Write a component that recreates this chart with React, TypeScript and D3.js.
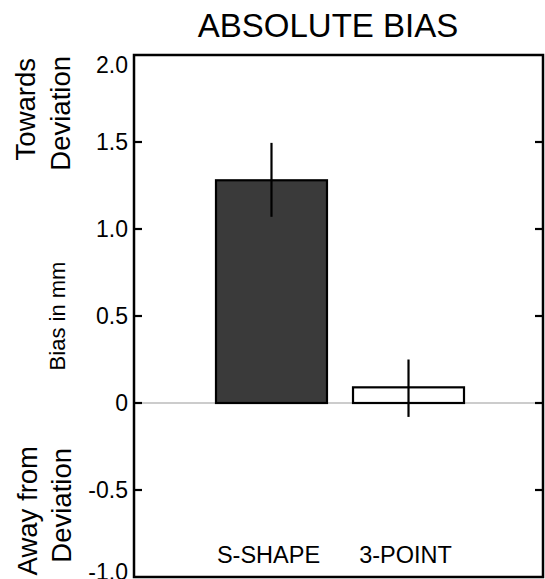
import React, { useEffect, useRef } from "react";
import * as d3 from "d3";

const categories = ["S-SHAPE", "3-POINT"];
const means = [1.28, 0.09];
const errLow = [1.07, -0.08];
const errHigh = [1.495, 0.25];
const barFills = ["#3a3a3a", "#ffffff"];
const yTicks = [-1.0, -0.5, 0, 0.5, 1.0, 1.5, 2.0];
const tickLabels = ["-1.0", "-0.5", "0", "0.5", "1.0", "1.5", "2.0"];

const WIDTH = 545;
const HEIGHT = 579;

export default function App() {
  const svgRef = useRef<SVGSVGElement>(null);

  useEffect(() => {
    const svg = d3.select(svgRef.current);
    svg.selectAll("*").remove();

    const margin = { top: 55, right: 2, bottom: 2, left: 134 };
    const plotW = WIDTH - margin.left - margin.right;
    const plotH = HEIGHT - margin.top - margin.bottom;
    const font = "'Liberation Sans', Arial, sans-serif";

    const g = svg
      .append("g")
      .attr("transform", `translate(${margin.left},${margin.top})`);

    const y = d3.scaleLinear().domain([-1, 2]).range([plotH, 0]);
    const x = d3
      .scaleBand()
      .domain(categories)
      .range([82, 330])
      .paddingInner(0.19)
      .paddingOuter(0);

    // zero line
    g.append("line")
      .attr("x1", 0)
      .attr("x2", plotW)
      .attr("y1", y(0))
      .attr("y2", y(0))
      .attr("stroke", "#9a9a9a")
      .attr("stroke-width", 1.2);

    // bars
    g.selectAll(".bar")
      .data(categories)
      .enter()
      .append("rect")
      .attr("class", "bar")
      .attr("x", (d) => x(d)!)
      .attr("width", x.bandwidth())
      .attr("y", (d, i) => y(Math.max(0, means[i])))
      .attr("height", (d, i) => Math.abs(y(means[i]) - y(0)))
      .attr("fill", (d, i) => barFills[i])
      .attr("stroke", "#000")
      .attr("stroke-width", 2.2);

    // error bars
    g.selectAll(".err")
      .data(categories)
      .enter()
      .append("line")
      .attr("class", "err")
      .attr("x1", (d) => x(d)! + x.bandwidth() / 2)
      .attr("x2", (d) => x(d)! + x.bandwidth() / 2)
      .attr("y1", (d, i) => y(errLow[i]))
      .attr("y2", (d, i) => y(errHigh[i]))
      .attr("stroke", "#000")
      .attr("stroke-width", 2.2);

    // category labels
    g.selectAll(".cat")
      .data(categories)
      .enter()
      .append("text")
      .attr("class", "cat")
      .attr("x", (d) => x(d)! + x.bandwidth() / 2 - 3)
      .attr("y", y(-1) - 14)
      .attr("text-anchor", "middle")
      .style("font-family", font)
      .style("font-size", "23.5px")
      .text((d) => d);

    // ticks on both sides, pointing inward
    const inner = yTicks.filter((t) => t > -1 && t < 2);
    g.selectAll(".tickL")
      .data(inner)
      .enter()
      .append("line")
      .attr("x1", 0)
      .attr("x2", 8)
      .attr("y1", (d) => y(d))
      .attr("y2", (d) => y(d))
      .attr("stroke", "#000")
      .attr("stroke-width", 2.2);
    g.selectAll(".tickR")
      .data(inner)
      .enter()
      .append("line")
      .attr("x1", plotW - 8)
      .attr("x2", plotW)
      .attr("y1", (d) => y(d))
      .attr("y2", (d) => y(d))
      .attr("stroke", "#000")
      .attr("stroke-width", 2.2);

    // tick labels (end labels nudged inside like the original)
    g.selectAll(".tlab")
      .data(yTicks)
      .enter()
      .append("text")
      .attr("class", "tlab")
      .attr("x", -6)
      .attr("y", (d) => y(d) + (d === 2 ? 10 : d === -1 ? -5 : 0))
      .attr("dy", "0.36em")
      .attr("text-anchor", "end")
      .style("font-family", font)
      .style("font-size", "23px")
      .text((d, i) => tickLabels[i]);

    // frame
    g.append("rect")
      .attr("x", 0)
      .attr("y", 0)
      .attr("width", plotW)
      .attr("height", plotH)
      .attr("fill", "none")
      .attr("stroke", "#000")
      .attr("stroke-width", 2.5);

    // title
    svg
      .append("text")
      .attr("x", 328)
      .attr("y", 37)
      .attr("text-anchor", "middle")
      .style("font-family", font)
      .style("font-size", "33px")
      .text("ABSOLUTE BIAS");

    // side labels
    const sideLabel = (txt: string, bx: number, endY: number, size: number) => {
      svg
        .append("text")
        .attr("transform", `translate(${bx},${endY}) rotate(-90)`)
        .attr("text-anchor", "end")
        .style("font-family", font)
        .style("font-size", `${size}px`)
        .text(txt);
    };
    sideLabel("Towards", 35, 58, 27.5);
    sideLabel("Deviation", 70, 56, 27.5);
    sideLabel("Away from", 37, 446, 27.5);
    sideLabel("Deviation", 71, 448, 27.5);

    svg
      .append("text")
      .attr("transform", `translate(65,${y(0.5) + margin.top}) rotate(-90)`)
      .attr("text-anchor", "middle")
      .style("font-family", font)
      .style("font-size", "22px")
      .text("Bias in mm");
  }, []);

  return (
    <svg
      ref={svgRef}
      width={WIDTH}
      height={HEIGHT}
      style={{ position: "absolute", left: 0, top: 0, background: "#fff" }}
    ></svg>
  );
}
